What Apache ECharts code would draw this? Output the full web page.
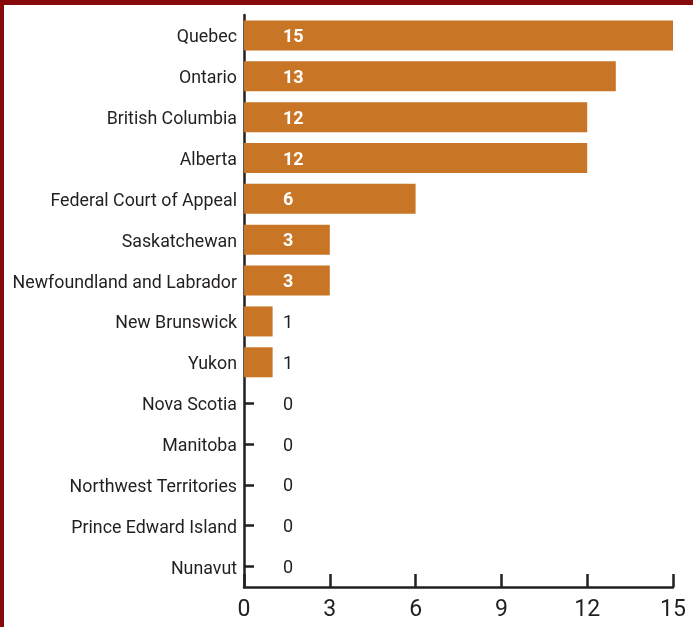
<!DOCTYPE html>
<html>
<head>
<meta charset="utf-8">
<script src="https://cdn.jsdelivr.net/npm/echarts@6/dist/echarts.min.js"></script>
<style>
  html, body { margin: 0; padding: 0; background: #fff; }
  #chart { width: 693px; height: 627px; }
</style>
</head>
<body>
<div id="chart"></div>
<script>
// Jurisdictions, listed from top to bottom
const jurisdictions = [
  'Quebec', 'Ontario', 'British Columbia', 'Alberta', 'Federal Court of Appeal',
  'Saskatchewan', 'Newfoundland and Labrador', 'New Brunswick', 'Yukon',
  'Nova Scotia', 'Manitoba', 'Northwest Territories', 'Prince Edward Island', 'Nunavut'
];
// Count for each jurisdiction
const counts = [15, 13, 12, 12, 6, 3, 3, 1, 1, 0, 0, 0, 0, 0];
// Value axis ticks
const xTicks = [0, 3, 6, 9, 12, 15];

const ink = '#231f20';
const barColor = '#c87525';
const frame = '#860a0c';

const chart = echarts.init(document.getElementById('chart'), null, { renderer: 'canvas' });

// Wide bars carry a white bold label; short ones a dark regular label
const seriesData = counts.map(v => ({
  value: v,
  label: v >= 3
    ? { color: '#ffffff', fontWeight: 'bold' }
    : { color: ink, fontWeight: 'normal' }
}));

chart.setOption({
  animation: false,
  backgroundColor: '#ffffff',
  grid: { left: 244, right: 20, top: 15, bottom: 40, containLabel: false },
  xAxis: {
    type: 'value',
    min: xTicks[0],
    max: xTicks[xTicks.length - 1],
    interval: 3,
    splitLine: { show: false },
    axisLine: { show: true, lineStyle: { color: ink, width: 2.5 } },
    axisTick: { show: true, inside: true, length: 13, lineStyle: { color: ink, width: 2.5 } },
    axisLabel: {
      color: ink, fontSize: 23, fontFamily: 'Roboto', margin: 12,
      formatter: v => xTicks.includes(v) ? String(v) : ''
    }
  },
  yAxis: {
    type: 'category',
    inverse: true,
    data: jurisdictions,
    axisLine: { show: true, lineStyle: { color: ink, width: 2.5 } },
    axisTick: { show: true, inside: true, alignWithLabel: true, length: 10, lineStyle: { color: ink, width: 2.5 } },
    axisLabel: {
      margin: 7,
      formatter: v => '{n|' + v + '}',
      rich: { n: { color: ink, fontSize: 17.8, fontFamily: 'Roboto', padding: [5, 0, 0, 0] } }
    }
  },
  series: [{
    type: 'bar',
    data: seriesData,
    barWidth: 30,
    itemStyle: { color: barColor },
    label: {
      show: true,
      position: [39, '50%'],
      align: 'left',
      verticalAlign: 'middle',
      offset: [0, 2],
      fontSize: 18,
      fontFamily: 'Roboto'
    }
  }],
  graphic: [
    { type: 'rect', left: 0, top: 0, shape: { width: 693, height: 5 }, style: { fill: frame }, z: 100 },
    { type: 'rect', left: 0, top: 0, shape: { width: 4, height: 627 }, style: { fill: frame }, z: 100 }
  ]
});
</script>
</body>
</html>
